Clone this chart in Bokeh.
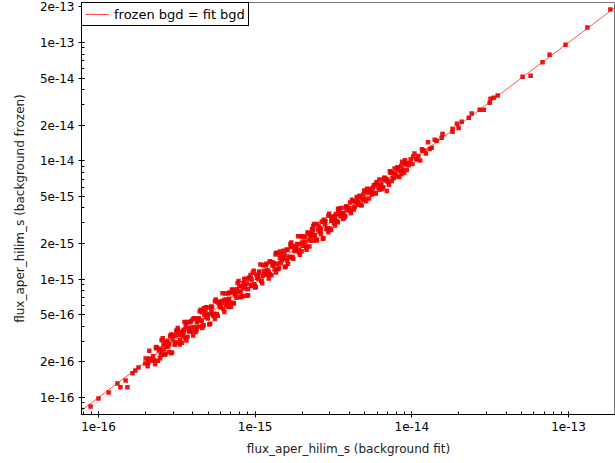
from bokeh.plotting import figure
from bokeh.models import Range1d, FixedTicker, CustomJSTickFormatter
from bokeh.embed import file_html
from bokeh.resources import INLINE

# flux_aper_hilim_s (background fit)
x_fit = [
    8.9e-17, 1.0e-16, 1.16e-16, 1.32e-16, 1.38e-16, 1.53e-16, 1.49e-16, 1.65e-16, 1.72e-16, 1.80e-16, 1.99e-16, 2.08e-16,
    2.00e-16, 2.06e-16, 2.11e-16, 2.17e-16, 2.23e-16, 2.30e-16, 2.36e-16, 2.43e-16, 2.50e-16, 2.57e-16, 2.64e-16, 2.72e-16,
    2.79e-16, 2.87e-16, 2.95e-16, 3.04e-16, 3.12e-16, 3.21e-16, 3.30e-16, 3.40e-16, 3.49e-16, 3.59e-16, 3.69e-16, 3.80e-16,
    3.91e-16, 4.02e-16, 4.13e-16, 4.25e-16, 4.37e-16, 4.49e-16, 4.62e-16, 4.75e-16, 4.88e-16, 5.02e-16, 5.16e-16, 5.31e-16,
    5.46e-16, 5.61e-16, 5.77e-16, 5.93e-16, 6.10e-16, 6.27e-16, 6.45e-16, 6.63e-16, 6.82e-16, 7.01e-16, 7.21e-16, 7.41e-16,
    7.62e-16, 7.84e-16, 8.06e-16, 8.29e-16, 8.52e-16, 8.76e-16, 9.01e-16, 9.26e-16, 9.52e-16, 9.79e-16,
    1.01e-15, 1.03e-15, 1.06e-15, 1.09e-15, 1.12e-15, 1.15e-15, 1.19e-15, 1.22e-15, 1.25e-15, 1.29e-15, 1.33e-15, 1.36e-15,
    1.40e-15, 1.44e-15, 1.48e-15, 1.52e-15, 1.57e-15, 1.61e-15, 1.66e-15, 1.70e-15, 1.75e-15, 1.80e-15, 1.85e-15, 1.90e-15,
    1.96e-15, 2.01e-15, 2.07e-15, 2.13e-15, 2.19e-15, 2.25e-15, 2.31e-15, 2.38e-15, 2.44e-15, 2.51e-15, 2.58e-15, 2.66e-15,
    2.73e-15, 2.81e-15, 2.89e-15, 2.97e-15, 3.05e-15, 3.14e-15, 3.23e-15, 3.32e-15, 3.41e-15, 3.51e-15, 3.61e-15, 3.71e-15,
    3.81e-15, 3.92e-15, 4.03e-15, 4.15e-15, 4.26e-15, 4.38e-15, 4.51e-15, 4.64e-15, 4.77e-15, 4.90e-15, 5.04e-15, 5.18e-15,
    5.33e-15, 5.48e-15, 5.63e-15, 5.79e-15, 5.96e-15, 6.12e-15, 6.30e-15, 6.48e-15, 6.66e-15, 6.85e-15, 7.04e-15, 7.24e-15,
    7.44e-15, 7.65e-15, 7.87e-15, 8.09e-15, 8.32e-15, 8.56e-15, 8.80e-15, 9.05e-15, 9.30e-15, 9.57e-15, 9.84e-15,
    1.01e-14, 1.04e-14, 1.07e-14, 1.10e-14, 1.13e-14, 1.16e-14, 1.20e-14, 1.23e-14, 1.27e-14,
    2.26e-16, 2.33e-16, 2.40e-16, 2.46e-16, 2.53e-16, 2.61e-16, 2.68e-16, 2.76e-16, 2.83e-16, 2.91e-16, 3.00e-16, 3.08e-16,
    3.17e-16, 3.26e-16, 3.35e-16, 3.45e-16, 3.54e-16, 3.64e-16, 3.75e-16, 3.86e-16, 3.97e-16, 4.08e-16, 4.19e-16, 4.31e-16,
    4.43e-16, 4.56e-16, 4.69e-16, 4.82e-16, 4.95e-16, 5.09e-16, 5.24e-16, 5.38e-16, 5.54e-16, 5.69e-16, 5.85e-16, 6.02e-16,
    6.19e-16, 6.36e-16, 6.54e-16, 6.73e-16, 6.92e-16, 7.11e-16, 7.31e-16, 7.52e-16, 7.73e-16, 7.95e-16, 8.18e-16, 8.41e-16,
    8.64e-16, 8.89e-16, 9.14e-16, 9.39e-16, 9.66e-16, 9.93e-16,
    1.02e-15, 1.05e-15, 1.08e-15, 1.11e-15, 1.14e-15, 1.17e-15, 1.20e-15, 1.24e-15, 1.27e-15, 1.31e-15, 1.35e-15, 1.38e-15,
    1.42e-15, 1.46e-15, 1.50e-15, 1.55e-15, 1.59e-15, 1.63e-15, 1.68e-15, 1.73e-15, 1.78e-15, 1.83e-15, 1.88e-15, 1.93e-15,
    1.99e-15, 2.04e-15, 2.10e-15, 2.16e-15, 2.22e-15, 2.28e-15, 2.35e-15, 2.41e-15, 2.48e-15, 2.55e-15, 2.62e-15, 2.70e-15,
    2.77e-15, 2.85e-15, 2.93e-15, 3.01e-15, 3.10e-15, 3.18e-15, 3.27e-15, 3.37e-15, 3.46e-15, 3.56e-15, 3.66e-15, 3.76e-15,
    3.87e-15, 3.98e-15, 4.09e-15, 4.21e-15, 4.32e-15, 4.45e-15, 4.57e-15, 4.70e-15, 4.84e-15, 4.97e-15, 5.11e-15, 5.26e-15,
    5.41e-15, 5.56e-15, 5.72e-15, 5.88e-15, 6.04e-15, 6.21e-15, 6.39e-15, 6.57e-15, 6.76e-15, 6.95e-15, 7.14e-15, 7.34e-15,
    7.55e-15, 7.76e-15, 7.98e-15, 8.21e-15, 8.44e-15, 8.68e-15, 8.92e-15, 9.17e-15,
    2.09e-16, 2.20e-16, 2.33e-16, 2.47e-16, 2.60e-16, 2.75e-16, 2.90e-16, 3.06e-16, 3.23e-16, 3.41e-16, 3.60e-16, 3.80e-16,
    4.01e-16, 4.23e-16, 4.47e-16, 4.72e-16, 4.98e-16, 5.25e-16, 5.54e-16, 5.85e-16, 6.17e-16, 6.51e-16, 6.87e-16, 7.25e-16,
    7.65e-16, 8.07e-16, 8.52e-16, 8.99e-16, 9.49e-16,
    1.00e-15, 1.06e-15, 1.12e-15, 1.18e-15, 1.24e-15, 1.31e-15, 1.38e-15, 1.46e-15, 1.54e-15, 1.62e-15, 1.71e-15, 1.81e-15,
    1.91e-15, 2.01e-15, 2.12e-15, 2.24e-15, 2.36e-15, 2.49e-15, 2.63e-15, 2.78e-15, 2.93e-15, 3.09e-15, 3.26e-15, 3.44e-15,
    3.63e-15, 3.83e-15, 4.04e-15, 4.27e-15, 4.50e-15, 4.75e-15, 5.01e-15, 5.29e-15, 5.58e-15, 5.89e-15, 6.21e-15, 6.56e-15,
    6.92e-15, 7.30e-15, 7.70e-15, 8.13e-15, 8.58e-15, 9.05e-15, 9.55e-15,
    1.02e-14, 1.08e-14, 1.17e-14,
    2.52e-16, 2.66e-16, 2.81e-16, 2.97e-16, 3.14e-16, 3.32e-16, 3.51e-16, 3.70e-16, 3.91e-16, 4.13e-16, 4.36e-16, 4.60e-16,
    4.86e-16, 5.13e-16, 5.42e-16, 5.72e-16, 6.04e-16, 6.38e-16, 6.73e-16, 7.11e-16, 7.51e-16, 7.93e-16, 8.37e-16, 8.84e-16,
    9.34e-16, 9.86e-16,
    1.04e-15, 1.10e-15, 1.16e-15, 1.22e-15, 1.29e-15, 1.36e-15, 1.44e-15, 1.52e-15, 1.60e-15, 1.69e-15, 1.78e-15, 1.88e-15,
    1.98e-15, 2.09e-15, 2.21e-15, 2.33e-15, 2.46e-15, 2.60e-15, 2.74e-15, 2.89e-15, 3.06e-15, 3.23e-15, 3.41e-15, 3.60e-15,
    3.80e-15,
    4.6e-16, 3.63e-16, 2.31e-15, 6.93e-15, 3.38e-15,
    1.30e-14, 1.34e-14, 1.40e-14, 1.44e-14, 1.55e-14, 1.57e-14, 1.82e-14, 1.82e-14, 1.94e-14, 1.99e-14, 2.08e-14, 2.31e-14,
    2.41e-14, 2.71e-14, 2.88e-14, 3.14e-14, 3.18e-14, 3.33e-14, 3.53e-14, 5.09e-14, 5.73e-14, 6.83e-14, 7.57e-14, 9.57e-14,
    1.32e-13, 1.85e-13,
]

# flux_aper_hilim_s (background frozen)
y_frozen = [
    8.4e-17, 9.8e-17, 1.10e-16, 1.31e-16, 1.22e-16, 1.22e-16, 1.39e-16, 1.60e-16, 1.69e-16, 1.79e-16, 1.94e-16, 1.98e-16,
    2.14e-16, 1.84e-16, 2.48e-16, 2.07e-16, 2.23e-16, 1.91e-16, 2.65e-16, 2.49e-16, 2.28e-16, 3.16e-16, 2.30e-16, 2.85e-16,
    2.73e-16, 3.29e-16, 2.40e-16, 3.33e-16, 2.91e-16, 3.86e-16, 2.81e-16, 3.40e-16, 3.74e-16, 3.20e-16, 4.34e-16, 3.63e-16,
    3.91e-16, 3.34e-16, 4.63e-16, 4.35e-16, 3.99e-16, 5.52e-16, 4.02e-16, 4.97e-16, 4.77e-16, 5.76e-16, 4.20e-16, 5.82e-16,
    5.09e-16, 6.74e-16, 4.91e-16, 5.93e-16, 6.54e-16, 5.59e-16, 7.58e-16, 6.33e-16, 6.82e-16, 5.83e-16, 8.09e-16, 7.58e-16,
    6.95e-16, 9.64e-16, 7.02e-16, 8.68e-16, 8.32e-16, 1.006e-15, 7.33e-16, 1.015e-15, 8.88e-16, 1.177e-15,
    8.60e-16, 1.03e-15, 1.14e-15, 9.71e-16, 1.32e-15, 1.10e-15, 1.19e-15, 1.015e-15, 1.40e-15, 1.32e-15, 1.21e-15, 1.67e-15,
    1.22e-15, 1.51e-15, 1.45e-15, 1.74e-15, 1.28e-15, 1.76e-15, 1.55e-15, 2.04e-15, 1.49e-15, 1.80e-15, 1.98e-15, 1.69e-15,
    2.30e-15, 1.92e-15, 2.07e-15, 1.77e-15, 2.46e-15, 2.30e-15, 2.11e-15, 2.93e-15, 2.13e-15, 2.63e-15, 2.52e-15, 3.05e-15,
    2.22e-15, 3.08e-15, 2.70e-15, 3.57e-15, 2.60e-15, 3.14e-15, 3.39e-15, 3.09e-15, 3.79e-15, 3.40e-15, 3.61e-15, 3.30e-15,
    4.11e-15, 4.00e-15, 3.79e-15, 4.69e-15, 3.88e-15, 4.51e-15, 4.42e-15, 5.06e-15, 4.20e-15, 5.19e-15, 4.79e-15, 5.80e-15,
    4.80e-15, 5.48e-15, 5.91e-15, 5.38e-15, 6.62e-15, 5.94e-15, 6.30e-15, 5.77e-15, 7.19e-15, 6.99e-15, 6.62e-15, 8.18e-15,
    6.77e-15, 7.88e-15, 7.71e-15, 8.82e-15, 7.32e-15, 9.07e-15, 8.36e-15, 1.014e-14, 8.37e-15, 9.57e-15, 1.033e-14,
    9.39e-15, 1.154e-14, 1.038e-14, 1.10e-14, 1.006e-14, 1.253e-14, 1.224e-14, 1.156e-14, 1.435e-14,
    2.06e-16, 2.67e-16, 2.04e-16, 2.58e-16, 3.04e-16, 2.55e-16, 2.33e-16, 3.02e-16, 2.83e-16, 2.37e-16, 3.37e-16, 2.87e-16,
    3.72e-16, 2.90e-16, 3.59e-16, 3.29e-16, 4.35e-16, 3.03e-16, 3.84e-16, 4.33e-16, 3.62e-16, 4.68e-16, 3.57e-16, 4.51e-16,
    5.32e-16, 4.46e-16, 4.08e-16, 5.28e-16, 4.95e-16, 4.14e-16, 5.88e-16, 5.02e-16, 6.51e-16, 5.07e-16, 6.27e-16, 5.75e-16,
    7.61e-16, 5.29e-16, 6.69e-16, 7.55e-16, 6.31e-16, 8.16e-16, 6.22e-16, 7.87e-16, 9.29e-16, 7.77e-16, 7.12e-16, 9.22e-16,
    8.64e-16, 7.23e-16, 1.026e-15, 8.76e-16, 1.135e-15, 8.85e-16,
    1.09e-15, 1.00e-15, 1.33e-15, 9.24e-16, 1.17e-15, 1.31e-15, 1.09e-15, 1.42e-15, 1.08e-15, 1.37e-15, 1.62e-15, 1.35e-15,
    1.24e-15, 1.60e-15, 1.50e-15, 1.26e-15, 1.78e-15, 1.52e-15, 1.97e-15, 1.54e-15, 1.91e-15, 1.75e-15, 2.31e-15, 1.61e-15,
    2.04e-15, 2.29e-15, 1.92e-15, 2.48e-15, 1.89e-15, 2.39e-15, 2.82e-15, 2.35e-15, 2.16e-15, 2.79e-15, 2.62e-15, 2.20e-15,
    3.11e-15, 2.66e-15, 3.44e-15, 2.68e-15, 3.32e-15, 2.99e-15, 3.56e-15, 3.03e-15, 3.56e-15, 3.99e-15, 3.59e-15, 3.42e-15,
    4.10e-15, 3.98e-15, 3.60e-15, 4.55e-15, 4.10e-15, 4.94e-15, 4.25e-15, 4.94e-15, 4.69e-15, 5.62e-15, 4.55e-15, 5.37e-15,
    5.79e-15, 5.23e-15, 6.23e-15, 5.29e-15, 6.22e-15, 6.96e-15, 6.26e-15, 5.98e-15, 7.17e-15, 6.95e-15, 6.28e-15, 7.93e-15,
    7.17e-15, 8.61e-15, 7.42e-15, 8.62e-15, 8.19e-15, 9.81e-15, 7.94e-15, 9.35e-15,
    2.14e-16, 2.05e-16, 2.61e-16, 2.15e-16, 2.79e-16, 2.69e-16, 3.41e-16, 2.79e-16, 3.38e-16, 2.90e-16, 3.95e-16, 3.63e-16,
    4.60e-16, 3.77e-16, 4.47e-16, 5.67e-16, 4.65e-16, 5.50e-16, 4.61e-16, 6.41e-16, 6.31e-16, 6.07e-16, 7.71e-16, 6.31e-16,
    8.20e-16, 7.88e-16, 1.001e-15, 8.20e-16, 9.94e-16,
    8.51e-16, 1.16e-15, 1.07e-15, 1.35e-15, 1.10e-15, 1.31e-15, 1.66e-15, 1.36e-15, 1.61e-15, 1.35e-15, 1.87e-15, 1.85e-15,
    1.78e-15, 2.26e-15, 1.85e-15, 2.40e-15, 2.31e-15, 2.93e-15, 2.40e-15, 2.91e-15, 2.49e-15, 3.39e-15, 3.11e-15, 3.95e-15,
    3.23e-15, 3.83e-15, 4.44e-15, 3.98e-15, 4.71e-15, 4.28e-15, 5.49e-15, 5.41e-15, 5.21e-15, 6.36e-15, 5.71e-15, 6.89e-15,
    6.78e-15, 8.03e-15, 7.16e-15, 8.46e-15, 7.72e-15, 9.59e-15, 9.17e-15,
    1.091e-14, 1.026e-14, 1.217e-14,
    2.42e-16, 2.93e-16, 2.42e-16, 3.09e-16, 3.64e-16, 3.05e-16, 3.58e-16, 3.26e-16, 4.42e-16, 3.92e-16, 4.67e-16, 3.86e-16,
    5.78e-16, 5.08e-16, 4.88e-16, 6.41e-16, 5.86e-16, 6.70e-16, 5.86e-16, 7.75e-16, 7.21e-16, 8.72e-16, 7.20e-16, 9.19e-16,
    1.083e-15, 9.07e-16,
    1.06e-15, 9.68e-16, 1.31e-15, 1.16e-15, 1.38e-15, 1.14e-15, 1.71e-15, 1.50e-15, 1.44e-15, 1.89e-15, 1.73e-15, 1.97e-15,
    1.72e-15, 2.28e-15, 2.12e-15, 2.56e-15, 2.12e-15, 2.70e-15, 3.18e-15, 2.66e-15, 3.12e-15, 2.84e-15, 3.85e-15, 3.42e-15,
    4.07e-15,
    5.25e-16, 4.24e-16, 2.65e-15, 5.57e-15, 3.92e-15,
    1.26e-14, 1.29e-14, 1.51e-14, 1.48e-14, 1.57e-14, 1.69e-14, 1.76e-14, 1.87e-14, 2.06e-14, 1.90e-14, 2.14e-14, 2.31e-14,
    2.51e-14, 2.70e-14, 2.70e-14, 3.10e-14, 3.35e-14, 3.42e-14, 3.56e-14, 5.15e-14, 5.25e-14, 6.8e-14, 7.9e-14, 9.6e-14,
    1.34e-13, 1.90e-13,
]

# reference line: frozen bgd = fit bgd
line_x = [7.0e-17, 2.5e-13]
line_y = [7.0e-17, 2.5e-13]

x_major = [1e-16, 1e-15, 1e-14, 1e-13]
y_major = [1e-16, 2e-16, 5e-16, 1e-15, 2e-15, 5e-15, 1e-14, 2e-14, 5e-14, 1e-13, 2e-13]
decades = [1e-17, 1e-16, 1e-15, 1e-14, 1e-13]
minor = [m * d for d in decades for m in range(1, 10)]

p = figure(width=615, height=463, x_axis_type="log", y_axis_type="log",
           output_backend="svg", toolbar_location=None,
           x_range=Range1d(7.79e-17, 1.995e-13), y_range=Range1d(7.18e-17, 2.18e-13),
           min_border_left=81, min_border_right=0, min_border_top=2, min_border_bottom=49)

p.background_fill_color = "white"
p.border_fill_color = "white"
p.outline_line_color = "#777777"
p.outline_line_width = 1
p.xgrid.visible = False
p.ygrid.visible = False

p.line(line_x, line_y, line_color="#ff3333", line_width=1, line_alpha=0.85,
       legend_label="frozen bgd = fit bgd")
p.scatter(x_fit, y_frozen, marker="square", size=4.5, fill_color="#ee0000",
          fill_alpha=0.92, line_color=None)

fmt = CustomJSTickFormatter(code="return tick.toExponential(0);")
for ax, majors in ((p.xaxis[0], x_major), (p.yaxis[0], y_major)):
    ax.ticker = FixedTicker(ticks=majors, minor_ticks=minor)
    ax.formatter = fmt
    ax.major_label_text_font = "DejaVu Sans"
    ax.major_label_text_font_size = "12px"
    ax.major_label_text_color = "black"
    ax.axis_label_text_font = "DejaVu Sans"
    ax.axis_label_text_font_size = "12px"
    ax.axis_label_text_font_style = "normal"
    ax.axis_label_text_color = "#222222"
    ax.axis_line_color = "black"
    ax.major_tick_line_color = "black"
    ax.minor_tick_line_color = "black"
    ax.major_tick_in = 3
    ax.major_tick_out = 3
    ax.minor_tick_in = 3
    ax.minor_tick_out = 0
    ax.major_label_standoff = 4

p.xaxis.axis_label = "flux_aper_hilim_s (background fit)"
p.yaxis.axis_label = "flux_aper_hilim_s (background frozen)"
p.xaxis.axis_label_standoff = 8
p.yaxis.axis_label_standoff = 10

lg = p.legend[0]
lg.location = "top_left"
lg.margin = 0
lg.padding = 3
lg.spacing = 0
lg.border_line_color = "black"
lg.border_line_width = 1
lg.border_line_alpha = 1
lg.background_fill_color = "white"
lg.background_fill_alpha = 1
lg.label_text_font = "DejaVu Sans"
lg.label_text_font_size = "13px"
lg.label_text_color = "black"
lg.glyph_width = 24
lg.glyph_height = 16
lg.label_height = 16
lg.label_standoff = 5

open("out.html", "w").write(file_html(p, INLINE))
